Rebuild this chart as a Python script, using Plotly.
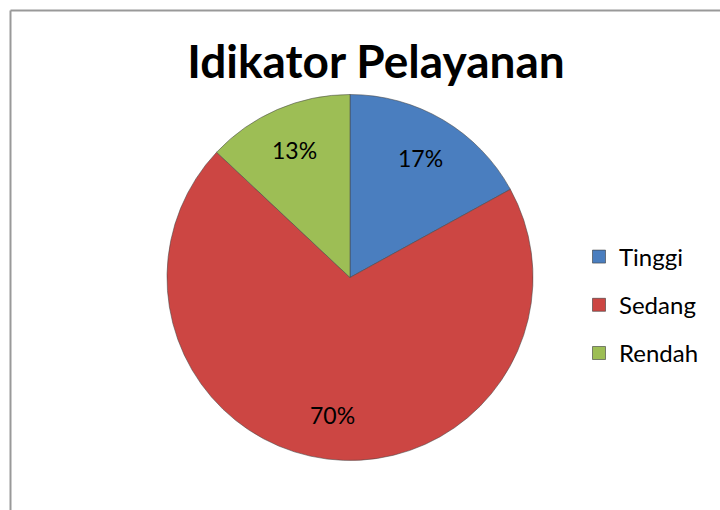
import math
import plotly.graph_objects as go

labels = ["Tinggi", "Sedang", "Rendah"]
values = [17, 70, 13]
colors = ["#4A7EBF", "#CC4643", "#9DBE55"]

W, H = 720, 510
# pie box in pixels (left, right, top, bottom)
PL, PR, PT, PB = 167, 533, 94, 461

fig = go.Figure()

fig.add_trace(go.Pie(
    labels=labels, values=values, sort=False, direction="clockwise", rotation=0,
    marker=dict(colors=colors, line=dict(color="rgba(70,70,70,0.55)", width=1)),
    textinfo="none", showlegend=False, hoverinfo="label+percent",
    domain=dict(x=[PL / W, PR / W], y=[1 - PB / H, 1 - PT / H]),
))

# percentage labels, placed along each slice's middle angle (Excel style, ~3/4 radius)
cx, cy = (PL + PR) / 2, (PT + PB) / 2
R = min(PR - PL, PB - PT) / 2
total = sum(values)
cum = 0
for v in values:
    mid = (cum + v / 2) / total * 2 * math.pi
    cum += v
    px = cx + 0.76 * R * math.sin(mid)
    py = cy - 0.76 * R * math.cos(mid)
    fig.add_annotation(x=px / W, y=1 - py / H, xref="paper", yref="paper",
                       xanchor="center", yanchor="middle",
                       text=f"{v / total:.0%}", showarrow=False,
                       font=dict(family="Lato", size=23, color="black"))

# legend entries (separate groups so the spacing can be set)
for lab, col in zip(labels, colors):
    fig.add_trace(go.Scatter(
        x=[None], y=[None], mode="markers", name=lab, legendgroup=lab,
        marker=dict(symbol="square", size=13, color=col,
                    line=dict(color="rgba(60,60,60,0.6)", width=1)),
    ))

fig.update_layout(
    width=W, height=H,
    margin=dict(l=0, r=0, t=0, b=0),
    paper_bgcolor="white", plot_bgcolor="white",
    title=dict(text="<b>Idikator Pelayanan</b>", x=376 / W, xanchor="center",
               y=1 - 62 / H, yanchor="middle",
               font=dict(family="Lato", size=46, color="black")),
    xaxis=dict(visible=False), yaxis=dict(visible=False),
    legend=dict(x=579 / W, xanchor="left", y=1 - 305 / H, yanchor="middle",
                font=dict(family="Lato", size=24, color="black"),
                tracegroupgap=14, itemwidth=30, bgcolor="rgba(0,0,0,0)"),
    shapes=[
        dict(type="line", xref="paper", yref="paper", x0=10.5 / W, x1=1.01,
             y0=1 - 10.5 / H, y1=1 - 10.5 / H, line=dict(color="#999999", width=2)),
        dict(type="line", xref="paper", yref="paper", x0=10.5 / W, x1=10.5 / W,
             y0=-0.01, y1=1 - 10.5 / H, line=dict(color="#999999", width=2)),
    ],
)

fig.write_html("out.html", config={"displayModeBar": False},
               post_script="document.body.style.margin='0';document.body.style.overflow='hidden';")
